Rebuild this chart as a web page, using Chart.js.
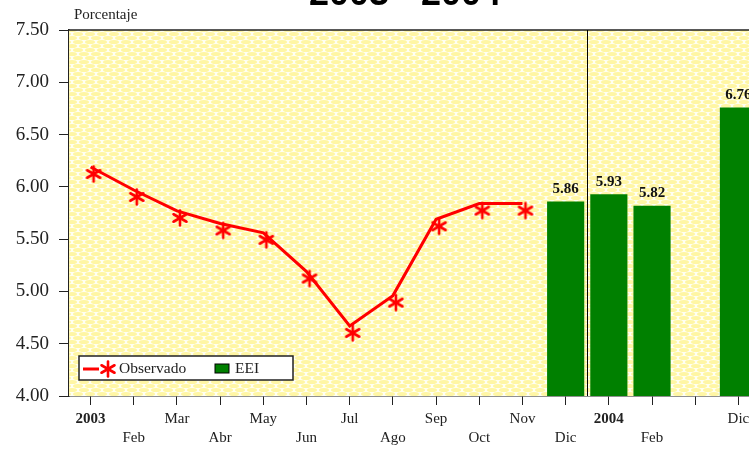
<!DOCTYPE html>
<html>
<head>
<meta charset="utf-8">
<script src="https://cdn.jsdelivr.net/npm/chart.js@4/dist/chart.umd.min.js"></script>
<style>
  html, body { margin: 0; padding: 0; background: #fff; overflow: hidden; }
  #wrap { position: relative; width: 749px; height: 450px; overflow: hidden; }
  #chart { position: absolute; left: 0; top: 0; }
</style>
</head>
<body>
<div id="wrap"><canvas id="chart" width="770" height="450"></canvas></div>
<script>
// datos
const titulo = "2003 - 2004"
const unidad = "Porcentaje"
const categorias = ["2003", "Feb", "Mar", "Abr", "May", "Jun", "Jul", "Ago", "Sep", "Oct", "Nov", "Dic", "2004", "Feb", "", "Dic"]
const observado = [6.19, 5.97, 5.77, 5.65, 5.56, 5.19, 4.67, 4.96, 5.69, 5.84, 5.84, null, null, null, null, null]
const eei = [null, null, null, null, null, null, null, null, null, null, null, 5.86, 5.93, 5.82, null, 6.76]
const yMin = 4.0
const yMax = 7.5
const yPaso = 0.5
const anios = ["2003", "2004"]

const SERIF = "'Liberation Serif', 'Times New Roman', serif"
const ROJO = "#ff0000"
const VERDE = "#008000"

// dibujar asterisco
function drawAsterisk(ctx, cx, cy, size) {
    ctx.save()
    ctx.strokeStyle = ROJO
    ctx.lineWidth = 2.6
    ctx.lineCap = "round"
    for (let k = 0; k < 3; k++) {
        const a = Math.PI / 2 + k * Math.PI / 3
        const dx = Math.cos(a) * size / 2
        const dy = Math.sin(a) * size / 2
        ctx.beginPath()
        ctx.moveTo(cx - dx, cy - dy)
        ctx.lineTo(cx + dx, cy + dy)
        ctx.stroke()
    }
    ctx.restore()
}

// imagen del marcador (ligeramente desplazado como en el original)
const marker = document.createElement("canvas")
marker.width = 40
marker.height = 40
drawAsterisk(marker.getContext("2d"), 23, 27, 15)

// fondo amarillo con textura
function makePattern(ctx) {
    const t = document.createElement("canvas")
    t.width = 12
    t.height = 8
    const c = t.getContext("2d")
    c.fillStyle = "#fffff2"
    c.fillRect(0, 0, 12, 8)
    c.fillStyle = "#fff6a4"
    c.beginPath()
    c.ellipse(6, 2, 5, 2, 0, 0, Math.PI * 2)
    c.fill()
    c.beginPath()
    c.ellipse(0, 6, 5, 2, 0, 0, Math.PI * 2)
    c.ellipse(12, 6, 5, 2, 0, 0, Math.PI * 2)
    c.fill()
    return ctx.createPattern(t, "repeat")
}

// etiquetas en dos filas alternadas
function labelRows(index) {
    const label = categorias[index]
    if (!label) return ""
    let n = 0
    for (let i = 0; i < index; i++) if (categorias[i]) n++
    return n % 2 === 0 ? [label, ""] : ["", label]
}

const decoPlugin = {
    id: "deco",
    beforeDatasetsDraw(chart) {
        const { ctx, chartArea: a } = chart
        ctx.save()
        ctx.fillStyle = makePattern(ctx)
        ctx.fillRect(a.left, a.top, a.right - a.left, a.bottom - a.top)
        ctx.restore()
    },
    afterDatasetsDraw(chart) {
        const { ctx, chartArea: a, scales } = chart
        ctx.save()
        // borde superior
        ctx.strokeStyle = "#222"
        ctx.lineWidth = 1.5
        ctx.beginPath()
        ctx.moveTo(a.left, a.top)
        ctx.lineTo(a.right, a.top)
        ctx.stroke()
        // separador de anios
        const i2004 = categorias.indexOf("2004")
        const xs = (scales.x.getPixelForValue(i2004 - 1) + scales.x.getPixelForValue(i2004)) / 2
        ctx.lineWidth = 1
        ctx.strokeStyle = "#000"
        ctx.beginPath()
        ctx.moveTo(Math.round(xs) + 0.5, a.top)
        ctx.lineTo(Math.round(xs) + 0.5, a.bottom)
        ctx.stroke()
        // valores de las barras
        const meta = chart.getDatasetMeta(1)
        ctx.fillStyle = "#111"
        ctx.font = "bold 15px " + SERIF
        ctx.textAlign = "center"
        ctx.textBaseline = "bottom"
        meta.data.forEach((el, i) => {
            if (eei[i] == null) return
            ctx.fillText(eei[i].toFixed(2), el.x, el.y - 5)
        })
        ctx.restore()
    },
    afterDraw(chart) {
        const { ctx, chartArea: a } = chart
        ctx.save()
        // titulo (recortado arriba)
        ctx.fillStyle = "#000"
        ctx.font = "bold 36px 'Liberation Sans', Arial, sans-serif"
        ctx.textAlign = "center"
        ctx.textBaseline = "alphabetic"
        ctx.fillText(titulo, 405, 5)
        // unidad
        ctx.fillStyle = "#222"
        ctx.font = "15px " + SERIF
        ctx.textAlign = "left"
        ctx.textBaseline = "middle"
        ctx.fillText(unidad, a.left + 5, 15)
        // leyenda
        const lx = a.left + 10, ly = a.bottom - 40
        ctx.fillStyle = "#fff"
        ctx.fillRect(lx, ly, 214, 24)
        ctx.strokeStyle = "#222"
        ctx.lineWidth = 1.5
        ctx.strokeRect(lx, ly, 214, 24)
        const cy = ly + 13
        ctx.strokeStyle = ROJO
        ctx.lineWidth = 3
        ctx.beginPath()
        ctx.moveTo(lx + 4, cy)
        ctx.lineTo(lx + 20, cy)
        ctx.stroke()
        drawAsterisk(ctx, lx + 29, cy, 15)
        ctx.fillStyle = "#222"
        ctx.font = "15.5px " + SERIF
        ctx.fillText(chart.data.datasets[0].label, lx + 40, cy)
        ctx.fillStyle = VERDE
        ctx.fillRect(lx + 136, cy - 5, 14, 9)
        ctx.strokeStyle = "#000"
        ctx.lineWidth = 1
        ctx.strokeRect(lx + 136, cy - 5, 14, 9)
        ctx.fillStyle = "#222"
        ctx.fillText(chart.data.datasets[1].label, lx + 156, cy)
        ctx.restore()
    }
}

new Chart(document.getElementById("chart"), {
    type: "bar",
    data: {
        labels: categorias,
        datasets: [{
            type: "line",
            label: "Observado",
            data: observado,
            borderColor: ROJO,
            backgroundColor: ROJO,
            borderWidth: 3,
            tension: 0,
            pointStyle: marker,
            spanGaps: false,
            order: 0
        }, {
            label: "EEI",
            data: eei,
            backgroundColor: VERDE,
            borderWidth: 0,
            grouped: false,
            barPercentage: 0.86,
            categoryPercentage: 1,
            order: 1
        }]
    },
    options: {
        responsive: false,
        animation: false,
        layout: { padding: { top: 30, right: 10, left: 0, bottom: 0 } },
        plugins: {
            legend: { display: false },
            tooltip: { enabled: false },
            title: { display: false }
        },
        scales: {
            x: {
                afterFit: (s) => { s.height = 54 },
                border: { color: "#222", width: 1.5 },
                grid: {
                    offset: false,
                    drawOnChartArea: false,
                    drawTicks: true,
                    tickLength: 9,
                    color: "#222"
                },
                ticks: {
                    autoSkip: false,
                    maxRotation: 0,
                    padding: 5,
                    color: "#222",
                    font: (c) => ({
                        family: SERIF,
                        size: 15,
                        lineHeight: "19px",
                        weight: anios.includes(categorias[c.index]) ? "bold" : "normal"
                    }),
                    callback: (v, i) => labelRows(i)
                }
            },
            y: {
                min: yMin,
                max: yMax,
                afterFit: (s) => { s.width = 69 },
                border: { color: "#222", width: 1.5 },
                grid: {
                    drawOnChartArea: false,
                    drawTicks: true,
                    tickLength: 10,
                    color: "#222"
                },
                ticks: {
                    stepSize: yPaso,
                    padding: 10,
                    color: "#222",
                    font: { family: SERIF, size: 19 },
                    callback: (v) => Number(v).toFixed(2)
                }
            }
        }
    },
    plugins: [decoPlugin]
})
</script>
</body>
</html>
